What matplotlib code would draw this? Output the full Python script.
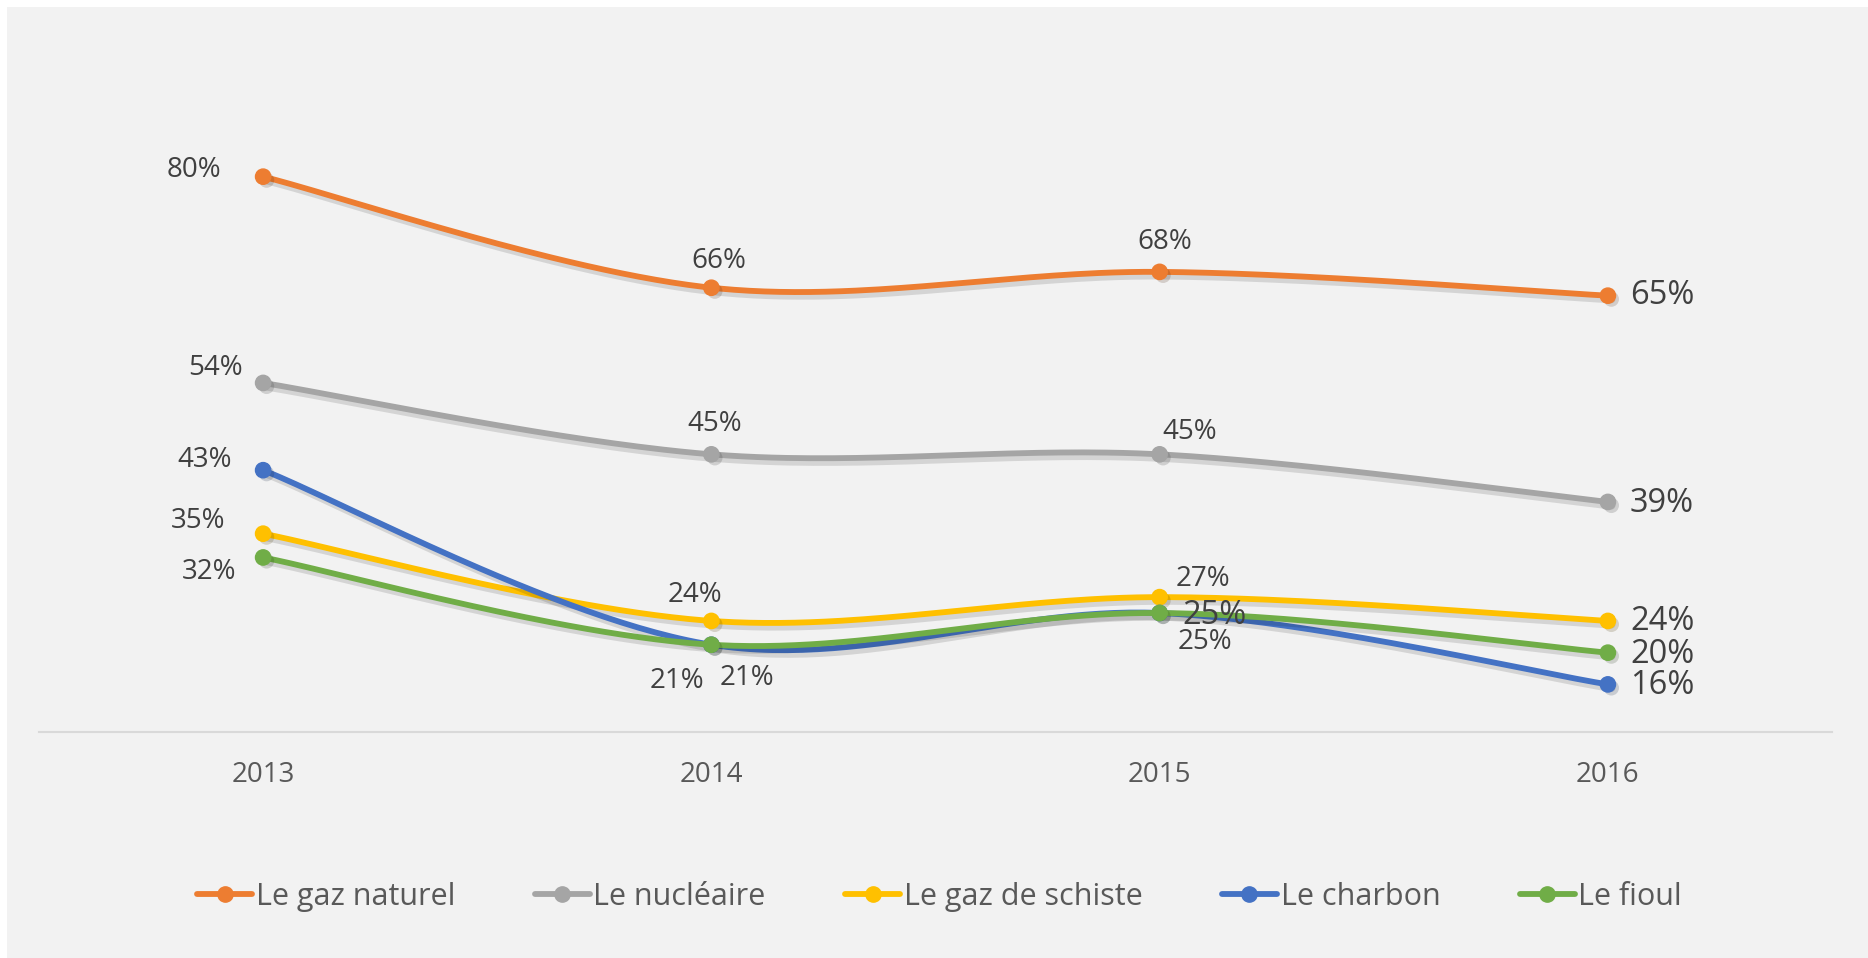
import numpy as np
import matplotlib
matplotlib.use("Agg")
import matplotlib.pyplot as plt
import matplotlib.patheffects as pe
from matplotlib.patches import Rectangle

plt.rcParams['font.family'] = ['Open Sans', 'DejaVu Sans']

# ---------------- data ----------------
years = ["2013", "2014", "2015", "2016"]
series_names = ["Le gaz naturel", "Le nucléaire", "Le gaz de schiste", "Le charbon", "Le fioul"]
gaz_naturel = [0.80, 0.66, 0.68, 0.65]
nucleaire = [0.54, 0.45, 0.45, 0.39]
gaz_schiste = [0.35, 0.24, 0.27, 0.24]
charbon = [0.43, 0.21, 0.25, 0.16]
fioul = [0.32, 0.21, 0.25, 0.20]
series_values = [gaz_naturel, nucleaire, gaz_schiste, charbon, fioul]

# ---------------- styles ----------------
colors = ["#ED7D31", "#A5A5A5", "#FFC000", "#4472C4", "#70AD47"]
# label placement: (dx_px, dy_px, ha, large)
label_pos = [
    [(-69, 7, 'center', False), (7, 27, 'center', False), (5, 30, 'center', False), (22, 0, 'left', True)],
    [(-20, 15, 'right', False), (3, 30, 'center', False), (30, 22, 'center', False), (22, -2, 'left', True)],
    [(-38, 13, 'right', False), (-16, 26, 'center', False), (43, 18, 'center', False), (22, -1, 'left', True)],
    [(-31, 10, 'right', False), (-34, -36, 'center', False), (45, -29, 'center', False), (22, -1, 'left', True)],
    [(-27, -15, 'right', False), (36, -33, 'center', False), (23, -2, 'left', True), (22, -2, 'left', True)],
]


def smooth(xs, ys, n=60):
    """Excel-like smoothed line (Catmull-Rom Bezier) through the points."""
    xs = np.asarray(xs, float)
    ys = np.asarray(ys, float)
    P = np.column_stack([xs, ys])
    m = len(P)
    out = []
    t = np.linspace(0, 1, n)
    for i in range(m - 1):
        p0 = P[max(i - 1, 0)]
        p1 = P[i]
        p2 = P[i + 1]
        p3 = P[min(i + 2, m - 1)]
        c1 = p1 + (p2 - p0) / 6.0
        c2 = p2 - (p3 - p1) / 6.0
        seg = ((1 - t) ** 3)[:, None] * p1 + (3 * (1 - t) ** 2 * t)[:, None] * c1 \
            + (3 * (1 - t) * t ** 2)[:, None] * c2 + (t ** 3)[:, None] * p2
        if i > 0:
            seg = seg[1:]
        out.append(seg)
    out = np.vstack(out)
    return out[:, 0], out[:, 1]


W, H = 1868, 958
fig = plt.figure(figsize=(W / 100, H / 100), dpi=100, facecolor="white")
fig.patches.append(Rectangle((7 / W, 0), 1 - 7 / W, 1 - 7 / H, transform=fig.transFigure,
                             facecolor="#F2F2F2", edgecolor="none", zorder=-10))

left, right = 39 / W, 1832 / W
bottom, top = (H - 732) / H, (H - 18) / H
ax = fig.add_axes([left, bottom, right - left, top - bottom])
ax.set_facecolor("none")

x = np.arange(len(years))
shadow = [pe.SimpleLineShadow(offset=(2.5, -2.5), shadow_color="black", alpha=0.12, linewidth=6),
          pe.Normal()]

handles = []
for k, (name, vals, col) in enumerate(zip(series_names, series_values, colors)):
    sx, sy = smooth(x, vals)
    ax.plot(sx, sy, color=col, lw=4.2, solid_capstyle="round", zorder=2 + k,
            path_effects=shadow)
    ax.plot(x, vals, linestyle="none", marker="o", ms=11, color=col, zorder=2 + k,
            path_effects=[pe.SimplePatchShadow(offset=(2.5, -2.5), alpha=0.18), pe.Normal()])
    h, = ax.plot([], [], color=col, lw=4.2, marker="o", ms=11, solid_capstyle="round")
    handles.append(h)
    for i, v in enumerate(vals):
        dx, dy, ha, large = label_pos[k][i]
        ax.annotate(f"{round(v * 100):d}%", (x[i], v), xytext=(dx, dy),
                    textcoords="offset pixels", ha=ha, va="center",
                    fontsize=23.5 if large else 20, color="#404040", zorder=20)

ax.set_xlim(-0.5, len(years) - 0.5)
ax.set_ylim(0.10, 1.00)
ax.set_xticks(x)
ax.set_xticklabels(years, fontsize=20, color="#595959")
ax.tick_params(axis="x", length=0, pad=21)
ax.set_yticks([])
for s in ["top", "right", "left"]:
    ax.spines[s].set_visible(False)
ax.spines["bottom"].set_color("#D9D9D9")
ax.spines["bottom"].set_linewidth(1.5)

leg = fig.legend(handles, series_names, loc="center", bbox_to_anchor=(0.503, (H - 897) / H),
                 ncol=5, frameon=False, fontsize=22, handlelength=1.8, handletextpad=0.12,
                 columnspacing=2.6, labelcolor="#595959")

fig.savefig("out.png", dpi=100, facecolor=fig.get_facecolor())
